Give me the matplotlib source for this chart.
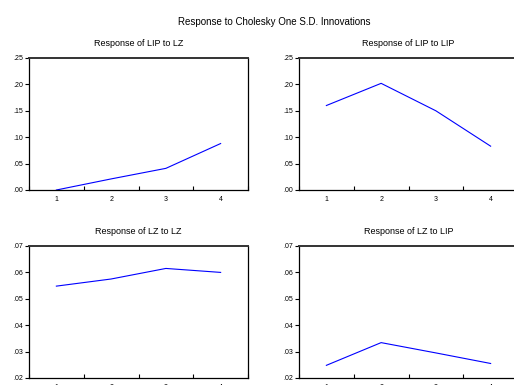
import matplotlib
matplotlib.use('Agg')
import matplotlib.pyplot as plt
from matplotlib.ticker import FuncFormatter

plt.rcParams['font.family'] = ['Liberation Sans', 'DejaVu Sans']

periods = [1, 2, 3, 4]
lip_to_lz = [0.000, 0.021, 0.041, 0.088]
lip_to_lip = [0.160, 0.202, 0.150, 0.083]
lz_to_lz = [0.0548, 0.0575, 0.0615, 0.0600]
lz_to_lip = [0.0248, 0.0334, 0.0295, 0.0255]

panel_titles = ['Response of LIP to LZ', 'Response of LIP to LIP',
                'Response of LZ to LZ', 'Response of LZ to LIP']
top_yticks = [0.00, 0.05, 0.10, 0.15, 0.20, 0.25]
bottom_yticks = [0.02, 0.03, 0.04, 0.05, 0.06, 0.07]

W, H = 514, 385
fig = plt.figure(figsize=(W / 100, H / 100), dpi=100)


def box(left, top, right, bottom):
    return [left / W, 1 - bottom / H, (right - left) / W, (bottom - top) / H]


def short_fmt(v, pos):
    s = f'{v:.2f}'
    return s[1:] if s.startswith('0') else s


panels = [
    (box(29, 58, 248, 190), lip_to_lz, top_yticks),
    (box(299, 58, 518, 190), lip_to_lip, top_yticks),
    (box(29, 246, 248, 378), lz_to_lz, bottom_yticks),
    (box(299, 246, 518, 378), lz_to_lip, bottom_yticks),
]

for (rect, values, yt), title in zip(panels, panel_titles):
    ax = fig.add_axes(rect)
    ax.plot(periods, values, color='#0000ff', lw=0.8)
    ax.set_xlim(0.5, 4.5)
    ax.set_ylim(yt[0], yt[-1])
    ax.set_yticks(yt)
    ax.yaxis.set_major_formatter(FuncFormatter(short_fmt))
    ax.tick_params(axis='y', direction='out', length=3, width=0.8,
                   labelsize=5, pad=1)
    ax.set_xticks([0.5, 1.5, 2.5, 3.5, 4.5])
    ax.set_xticklabels([])
    ax.tick_params(axis='x', which='major', direction='in', length=3, width=0.8)
    ax.set_xticks(periods, minor=True)
    ax.set_xticklabels([str(p) for p in periods], minor=True)
    ax.tick_params(axis='x', which='minor', length=0, labelsize=5, pad=4)
    for sp in ax.spines.values():
        sp.set_linewidth(0.9)
    ax.spines['top'].set_linewidth(1.4)
    ax.spines['top'].set_color('#333333')
    ax.set_title(title, fontsize=6.5, pad=9)

fig.text(274 / W, 1 - 22 / H, 'Response to Cholesky One S.D. Innovations',
         ha='center', va='center', fontsize=7)

fig.savefig('out.png', dpi=100)
